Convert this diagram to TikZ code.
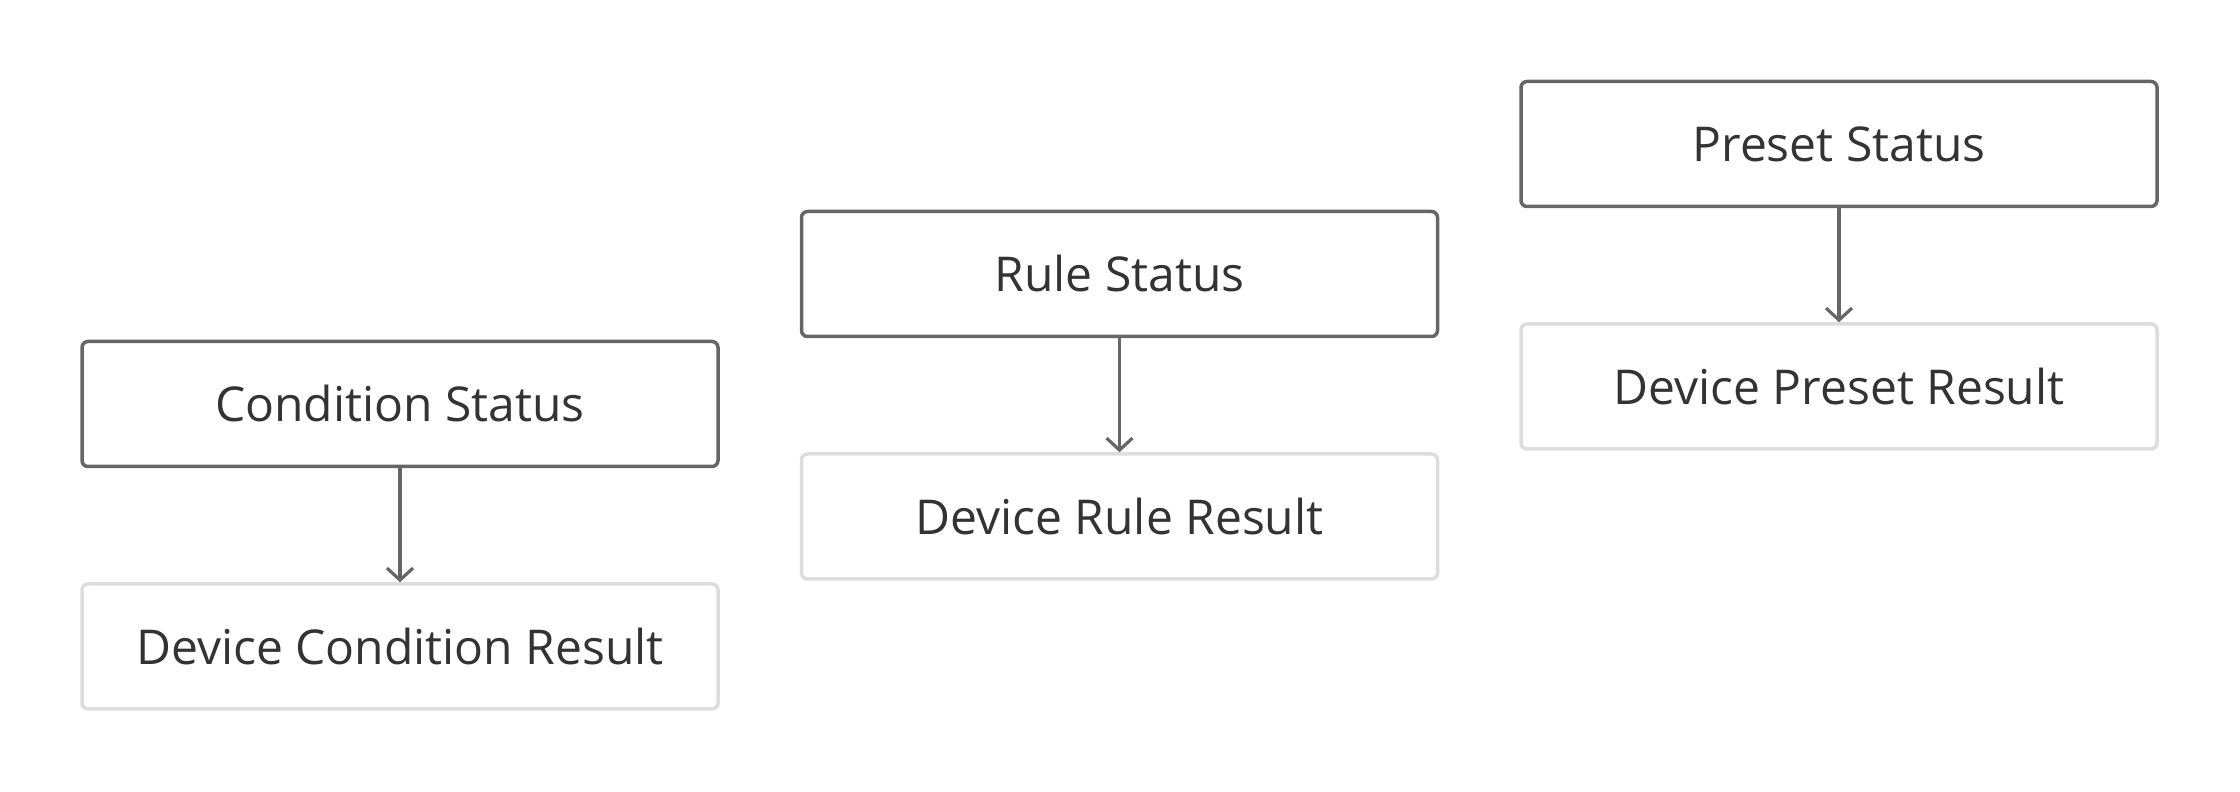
\documentclass[tikz,border=0pt]{standalone}
\usepackage{fontspec}
\setmainfont{Open Sans}
\usepackage{xcolor}
\usetikzlibrary{arrows.meta,positioning}
\definecolor{statusline}{HTML}{666666}
\definecolor{resultline}{HTML}{DDDDDD}
\definecolor{labeltext}{HTML}{333333}

\begin{document}
\begin{tikzpicture}[
      node distance=57pt and 40pt,
      status/.style={draw=statusline, line width=1.75pt, rounded corners=3pt,
                     minimum width=318pt, minimum height=62.5pt,
                     align=center, text=labeltext, font=\fontsize{24}{28}\selectfont},
      result/.style={status, draw=resultline},
      arrow/.style={-{Straight Barb[length=6pt,width=13pt]}, line width=1.6pt, draw=statusline}
    ]
    \useasboundingbox (0,0) rectangle (1120pt,396pt);
    \node[status] (cond) at (200pt,194pt) {Condition Status};
    \node[result, below=of cond] (condres) {Device Condition Result};
    \node[status, right=of cond, yshift=65pt] (rule) {Rule Status};
    \node[result, below=of rule] (ruleres) {Device Rule Result};
    \node[status, right=of rule, yshift=65pt] (preset) {Preset Status};
    \node[result, below=of preset] (presetres) {Device Preset Result};

    \draw[arrow] (cond)   -- (condres);
    \draw[arrow] (rule)   -- (ruleres);
    \draw[arrow] (preset) -- (presetres);
  \end{tikzpicture}
\end{document}
